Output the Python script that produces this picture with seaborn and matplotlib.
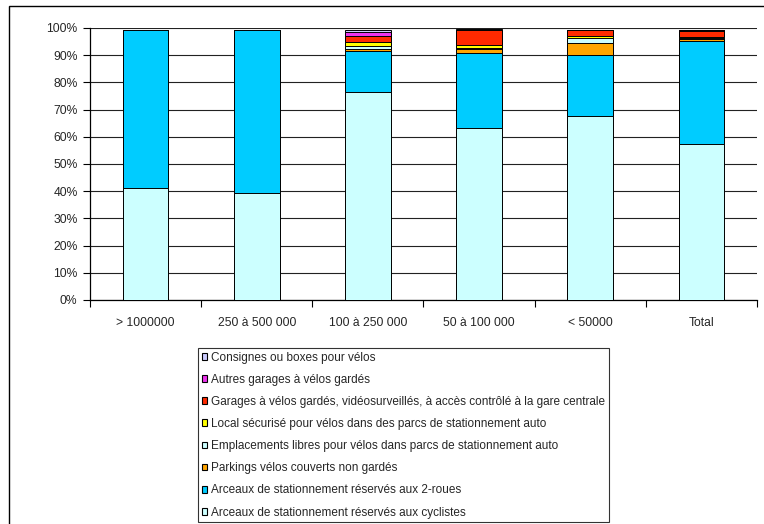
import numpy as np
import pandas as pd
import matplotlib
matplotlib.use("Agg")
import matplotlib.pyplot as plt
from matplotlib.patches import Rectangle
from matplotlib.ticker import PercentFormatter, FixedLocator
import seaborn as sns

# Size classes of stations
categories = ["> 1000000", "250 à 500 000", "100 à 250 000", "50 à 100 000", "< 50000", "Total"]

# Share of each type of bicycle parking, per class (fractions), bottom to top
arceaux_cyclistes = [0.410, 0.393, 0.763, 0.633, 0.678, 0.573]
arceaux_2roues    = [0.583, 0.600, 0.152, 0.274, 0.223, 0.380]
parkings_couverts = [0.000, 0.000, 0.009, 0.017, 0.045, 0.007]
emplacements_auto = [0.000, 0.000, 0.008, 0.003, 0.017, 0.003]
local_securise    = [0.000, 0.000, 0.017, 0.012, 0.006, 0.005]
garages_gare      = [0.000, 0.000, 0.021, 0.054, 0.023, 0.022]
autres_garages    = [0.000, 0.000, 0.016, 0.000, 0.001, 0.001]
consignes_boxes   = [0.000, 0.000, 0.005, 0.002, 0.001, 0.001]

series_names = [
    "Arceaux de stationnement réservés aux cyclistes",
    "Arceaux de stationnement réservés aux 2-roues",
    "Parkings vélos couverts non gardés",
    "Emplacements libres pour vélos dans parcs de stationnement auto",
    "Local sécurisé pour vélos dans des parcs de stationnement auto",
    "Garages à vélos gardés, vidéosurveillés, à accès contrôlé à la gare centrale",
    "Autres garages à vélos gardés",
    "Consignes ou boxes pour vélos",
]
series_values = [arceaux_cyclistes, arceaux_2roues, parkings_couverts, emplacements_auto,
                 local_securise, garages_gare, autres_garages, consignes_boxes]
series_colors = ["#CCFFFF", "#00CCFF", "#FFA500", "#CCFFFF",
                 "#FFFF00", "#FF2A00", "#EE33EE", "#CCCCFF"]

sns.set_style("white")
plt.rcParams["font.family"] = ["Liberation Sans", "DejaVu Sans"]

fig = plt.figure(figsize=(7.64, 5.24), dpi=100)
ax = fig.add_axes([90 / 764, 1 - 300 / 524, 667 / 764, 272 / 524])

# Long-format table with cumulative tops for stacking
rows = []
cum = np.zeros(len(categories))
for name, vals in zip(series_names, series_values):
    cum = cum + np.array(vals)
    for c, top in zip(categories, cum):
        rows.append({"categorie": c, "serie": name, "haut": top})
df = pd.DataFrame(rows)

# Draw the tallest cumulative layer first so lower layers sit in front
for name, color in reversed(list(zip(series_names, series_colors))):
    sub = df[df["serie"] == name]
    sns.barplot(data=sub, x="categorie", y="haut", order=categories, color=color,
                width=0.41, edgecolor="black", linewidth=0.7, saturation=1,
                errorbar=None, ax=ax, zorder=3)

ax.set_xlim(-0.5, len(categories) - 0.5)
ax.set_ylim(0, 1.0)
ax.set_xlabel("")
ax.set_ylabel("")
ax.yaxis.set_major_locator(FixedLocator(np.arange(0, 1.01, 0.1)))
ax.yaxis.set_major_formatter(PercentFormatter(1.0, decimals=0))
ax.grid(axis="y", color="#222222", linewidth=0.8, zorder=0)
ax.grid(axis="x", visible=False)
for s in ["top", "right"]:
    ax.spines[s].set_visible(False)
for s in ["left", "bottom"]:
    ax.spines[s].set_color("black")
    ax.spines[s].set_linewidth(0.9)

ax.tick_params(axis="y", which="major", direction="out", length=5, width=0.8,
               color="black", labelsize=8.7, pad=4, left=True)
ax.tick_params(axis="x", which="major", length=0, labelsize=8.7, pad=12)
ax.set_xticks(np.arange(-0.5, len(categories)), minor=True)
ax.tick_params(axis="x", which="minor", direction="out", length=5, width=0.8,
               color="black", bottom=True)

# Legend, top series first
handles = [Rectangle((0, 0), 1, 1, facecolor=c, edgecolor="black", linewidth=0.8)
           for c in series_colors]
leg = fig.legend(handles[::-1], series_names[::-1], loc="upper left",
                 bbox_to_anchor=(198 / 764, 1 - 348 / 524),
                 fontsize=8.5, frameon=True, fancybox=False,
                 handlelength=0.5, handleheight=0.5, handletextpad=0.3,
                 labelspacing=0.86, borderpad=0.3, borderaxespad=0)
leg.get_frame().set_edgecolor("black")
leg.get_frame().set_linewidth(0.8)

# Chart area border
fig.patches.append(Rectangle((9 / 764, -0.05), 1.2, 1 - 6 / 524 + 0.05,
                             transform=fig.transFigure, fill=False,
                             edgecolor="black", linewidth=1.0))

fig.savefig("out.png", dpi=100)
